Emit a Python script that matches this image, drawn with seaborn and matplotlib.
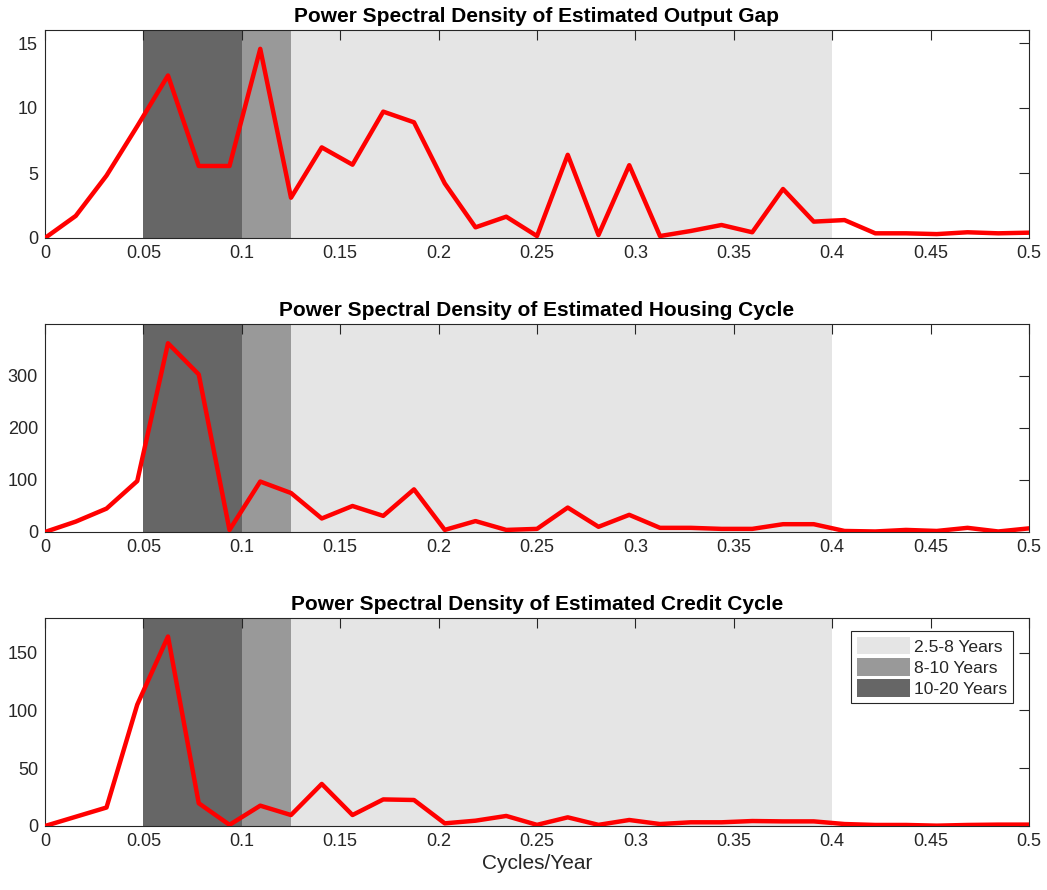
import numpy as np
import pandas as pd
import matplotlib
matplotlib.use("Agg")
import matplotlib.pyplot as plt
import seaborn as sns

# ---- data ----
freq = [k / 64 for k in range(33)]  # cycles/year

output_gap = [0, 1.7, 4.8, 8.6, 12.5, 5.54, 5.54, 14.55, 3.1, 6.97, 5.64, 9.72, 8.9,
              4.2, 0.82, 1.64, 0.15, 6.4, 0.23, 5.6, 0.15, 0.54, 1.0, 0.44, 3.77,
              1.26, 1.38, 0.36, 0.36, 0.3, 0.44, 0.36, 0.41]
housing = [0, 20, 45, 98, 363, 303, 4, 97, 75, 26, 50, 31, 82, 4, 21, 4, 6, 47, 10,
           33, 8, 8, 6, 6, 15, 15, 2, 1, 4, 2, 8, 1, 7]
credit = [0, 8, 16, 105, 164, 19.7, 1, 17.6, 9.5, 36.4, 9.5, 23, 22.5, 2.3, 4.6, 8.7,
          1, 7.5, 1, 5.2, 1.7, 3.2, 3.2, 4.3, 4, 4, 1.7, 0.9, 0.9, 0.3, 0.9, 1.2, 1.2]

titles = ["Power Spectral Density of Estimated Output Gap",
          "Power Spectral Density of Estimated Housing Cycle",
          "Power Spectral Density of Estimated Credit Cycle"]
series = [output_gap, housing, credit]
ylims = [16, 400, 180]
yticks = [[0, 5, 10, 15], [0, 100, 200, 300], [0, 50, 100, 150]]

band_labels = ["2.5-8 Years", "8-10 Years", "10-20 Years"]
band_lo = [0.125, 0.1, 0.05]
band_hi = [0.4, 0.125, 0.1]
band_colors = ["#e5e5e5", "#999999", "#666666"]

xticks = [0, 0.05, 0.1, 0.15, 0.2, 0.25, 0.3, 0.35, 0.4, 0.45, 0.5]
xticklabels = ["0", "0.05", "0.1", "0.15", "0.2", "0.25", "0.3", "0.35", "0.4", "0.45", "0.5"]

# ---- style ----
sns.set_style("white")
plt.rcParams["font.family"] = ["Liberation Sans", "DejaVu Sans"]
plt.rcParams["xtick.direction"] = "in"
plt.rcParams["ytick.direction"] = "in"

fig = plt.figure(figsize=(10.47, 8.9), dpi=100)
W, H = 1047, 890
left, right = 45, 1029
tops = [30, 324, 618]
ph = 208

for i in range(3):
    ax = fig.add_axes([left / W, 1 - (tops[i] + ph) / H, (right - left) / W, ph / H])
    handles = []
    for lab, lo, hi, c in zip(band_labels, band_lo, band_hi, band_colors):
        h = ax.axvspan(lo, hi, color=c, lw=0, label=lab, zorder=0)
        handles.append(h)
    df = pd.DataFrame({"f": freq, "p": series[i]})
    sns.lineplot(data=df, x="f", y="p", ax=ax, color="#ff0000", lw=3.2, zorder=3,
                 legend=False)
    if ax.get_legend() is not None:
        ax.get_legend().remove()
    ax.set_xlim(0, 0.5)
    ax.set_ylim(0, ylims[i])
    ax.set_xticks(xticks)
    ax.set_xticklabels(xticklabels)
    ax.set_yticks(yticks[i])
    ax.set_xlabel("")
    ax.set_ylabel("")
    ax.set_title(titles[i], fontsize=15, fontweight="bold", pad=6, color="black")
    ax.tick_params(axis="both", which="both", top=True, right=True, length=7,
                   width=0.8, color="#262626", labelsize=13, labelcolor="#262626", pad=5)
    for sp in ax.spines.values():
        sp.set_visible(True)
        sp.set_color("#262626")
        sp.set_linewidth(0.8)
    if i == 2:
        ax.set_xlabel("Cycles/Year", fontsize=15, color="#262626", labelpad=3)
        leg = ax.legend(handles=handles, labels=band_labels, loc="upper right",
                        bbox_to_anchor=(0.9837, 0.9375), fontsize=12.6, frameon=True,
                        fancybox=False, edgecolor="#262626", framealpha=1,
                        handlelength=3.05, handleheight=1.15, handletextpad=0.2,
                        labelspacing=0.2, borderpad=0.35, borderaxespad=0.0)
        leg.get_frame().set_linewidth(0.8)

fig.savefig("out.png", dpi=100)
